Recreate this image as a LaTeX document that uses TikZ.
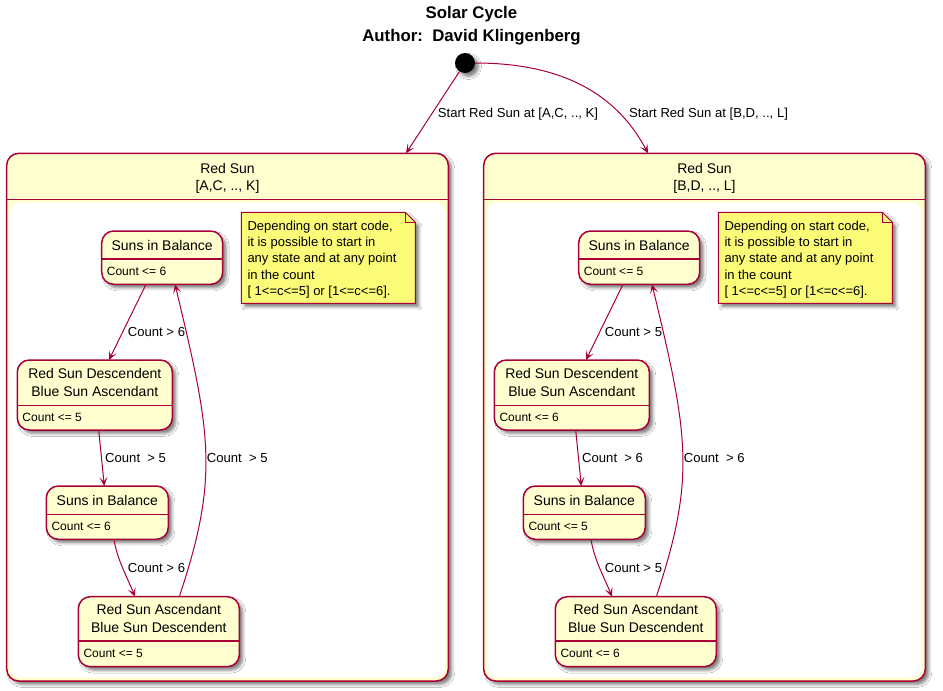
\documentclass[tikz,border=0pt]{standalone}
\usepackage{fontspec}
\setmainfont{Liberation Sans}
\usetikzlibrary{arrows.meta,shadows,shadows.blur}
\definecolor{pborder}{HTML}{A80036}
\definecolor{pfill}{HTML}{FEFECE}
\definecolor{pnote}{HTML}{FBFB77}
\tikzset{
  shd/.style={blur shadow={shadow xshift=3.5pt,shadow yshift=-3.5pt,shadow blur radius=3pt,shadow opacity=50}},
  stnode/.style={draw=pborder,fill=pfill,line width=1.5pt,rounded corners=12pt,inner sep=0pt,outer sep=0pt,shd},
  comp/.style={draw=pborder,fill=pfill,line width=1.5pt,rounded corners=12pt,inner sep=0pt,outer sep=0pt,shd},
  sepline/.style={draw=pborder,line width=1.5pt},
  stname/.style={inner sep=0pt,align=center,font=\fontsize{14}{18}\selectfont},
  comptitle/.style={inner sep=0pt,align=center,font=\fontsize{14}{17.4}\selectfont},
  stcount/.style={inner sep=0pt,anchor=west,font=\fontsize{12}{14}\selectfont},
  lbl/.style={inner sep=0pt,anchor=base west,font=\fontsize{13.1}{15}\selectfont},
  notetext/.style={inner sep=0pt,anchor=north west,align=left,font=\fontsize{13}{16.25}\selectfont},
  conn/.style={draw=pborder,line width=1pt,-{Stealth[length=9pt,width=8pt,inset=4.5pt]}},
}
\newcommand\stbox[8]{%
  \node[stnode,minimum width={#4-#2},minimum height={#5-#3},anchor=north west] (#1) at (#2,#3) {};
  \draw[sepline] (#2,#6) -- (#4,#6);
  \node[stname] (#1n) at ({(#2+#4)/2},{(#3+#6)/2}) {#7};
  \node[stcount] (#1c) at ({#2+5},{(#6+#5)/2}) {#8};
}
\newcommand\sunbox[4]{%
  \node[comp,minimum width=441.6pt,minimum height=527.7pt,anchor=north west] (#1c) at (6.7,153.3) {};
  \fill[white,rounded corners=10pt] (10.2,202.5) rectangle (444.8,677.5);
  \draw[sepline] (6.7,199.3) -- (448.3,199.3);
  \node[comptitle] (#1t) at (227.5,178.4) {Red Sun\\{}#2};
  % note
  \path[draw=pborder,fill=pnote,line width=1pt,shd] (241.3,212.3) -- (405.3,212.3) -- (415.3,222.3) -- (415.3,303.3) -- (241.3,303.3) -- cycle;
  \draw[pborder,line width=1pt] (405.3,212.3) -- (405.3,222.3) -- (415.3,222.3);
  \node[notetext] (#1n) at (247.3,220.8) {Depending on start code,\\it is possible to start in\\any state and at any point\\in the count\\{}[ 1<=c<=5] or [1<=c<=6].};
  % states
  \stbox{#1s1}{101.7}{231}{222.7}{284.3}{259}{Suns in Balance}{Count <= #3}
  \stbox{#1s2}{17.3}{360}{172.3}{430}{405.7}{Red Sun Descendent\\Blue Sun Ascendant}{Count <= #4}
  \stbox{#1s3}{46.3}{486}{168.3}{539.3}{514.3}{Suns in Balance}{Count <= #3}
  \stbox{#1s4}{78.3}{596.7}{239.3}{666.7}{641}{Red Sun Ascendant\\Blue Sun Descendent}{Count <= #4}
  % transitions
  \draw[conn] ([xshift=44.3pt]#1s1.south west) -- ([xshift=91.7pt]#1s2.north west);
  \draw[conn] ([xshift=81.4pt]#1s2.south west) -- ([xshift=58pt]#1s3.north west);
  \draw[conn] ([xshift=67.7pt]#1s3.south west) .. controls +(3,20) and +(-8,-20) .. ([xshift=56.7pt]#1s4.north west);
  \draw[conn] ([xshift=101pt]#1s4.north west) .. controls +(40,-120) and +(36,150) .. ([xshift=73.3pt]#1s1.south west);
  \node[lbl] (#1l1) at (127.7,336.9) {Count > #3};
  \node[lbl] (#1l2) at (105,462.9) {Count\ \ > #4};
  \node[lbl] (#1l3) at (127.7,572.3) {Count > #3};
  \node[lbl] (#1l4) at (206.7,462.9) {Count\ \ > #4};
}
\begin{document}
\begin{tikzpicture}[x=1pt,y=-1pt]
\useasboundingbox[fill=white] (0,0) rectangle (943,691);
\node[inner sep=0pt,anchor=base,font=\fontsize{16.8}{20}\selectfont\bfseries] (title1) at (471.5,18.3) {Solar Cycle};
\node[inner sep=0pt,anchor=base,font=\fontsize{16.8}{20}\selectfont\bfseries] (title2) at (471.5,41.3) {Author:\ \ David Klingenberg};
\sunbox{l}{[A,C, .., K]}{6}{5}
\begin{scope}[xshift=477pt]
\sunbox{r}{[B,D, .., L]}{5}{6}
\end{scope}
\node[circle,fill=black,minimum size=20pt,inner sep=0pt,shd] (start) at (465,63) {};
\coordinate (lin) at (406,153.3);
\coordinate (rin) at (648,153.3);
\draw[conn] (start) -- (lin);
\draw[conn] (start) .. controls (570,63) and (620,100) .. (rin);
\node[lbl] (sl) at (437.7,117.7) {Start Red Sun at [A,C, .., K]};
\node[lbl] (sr) at (629,117.7) {Start Red Sun at [B,D, .., L]};
\end{tikzpicture}
\end{document}
